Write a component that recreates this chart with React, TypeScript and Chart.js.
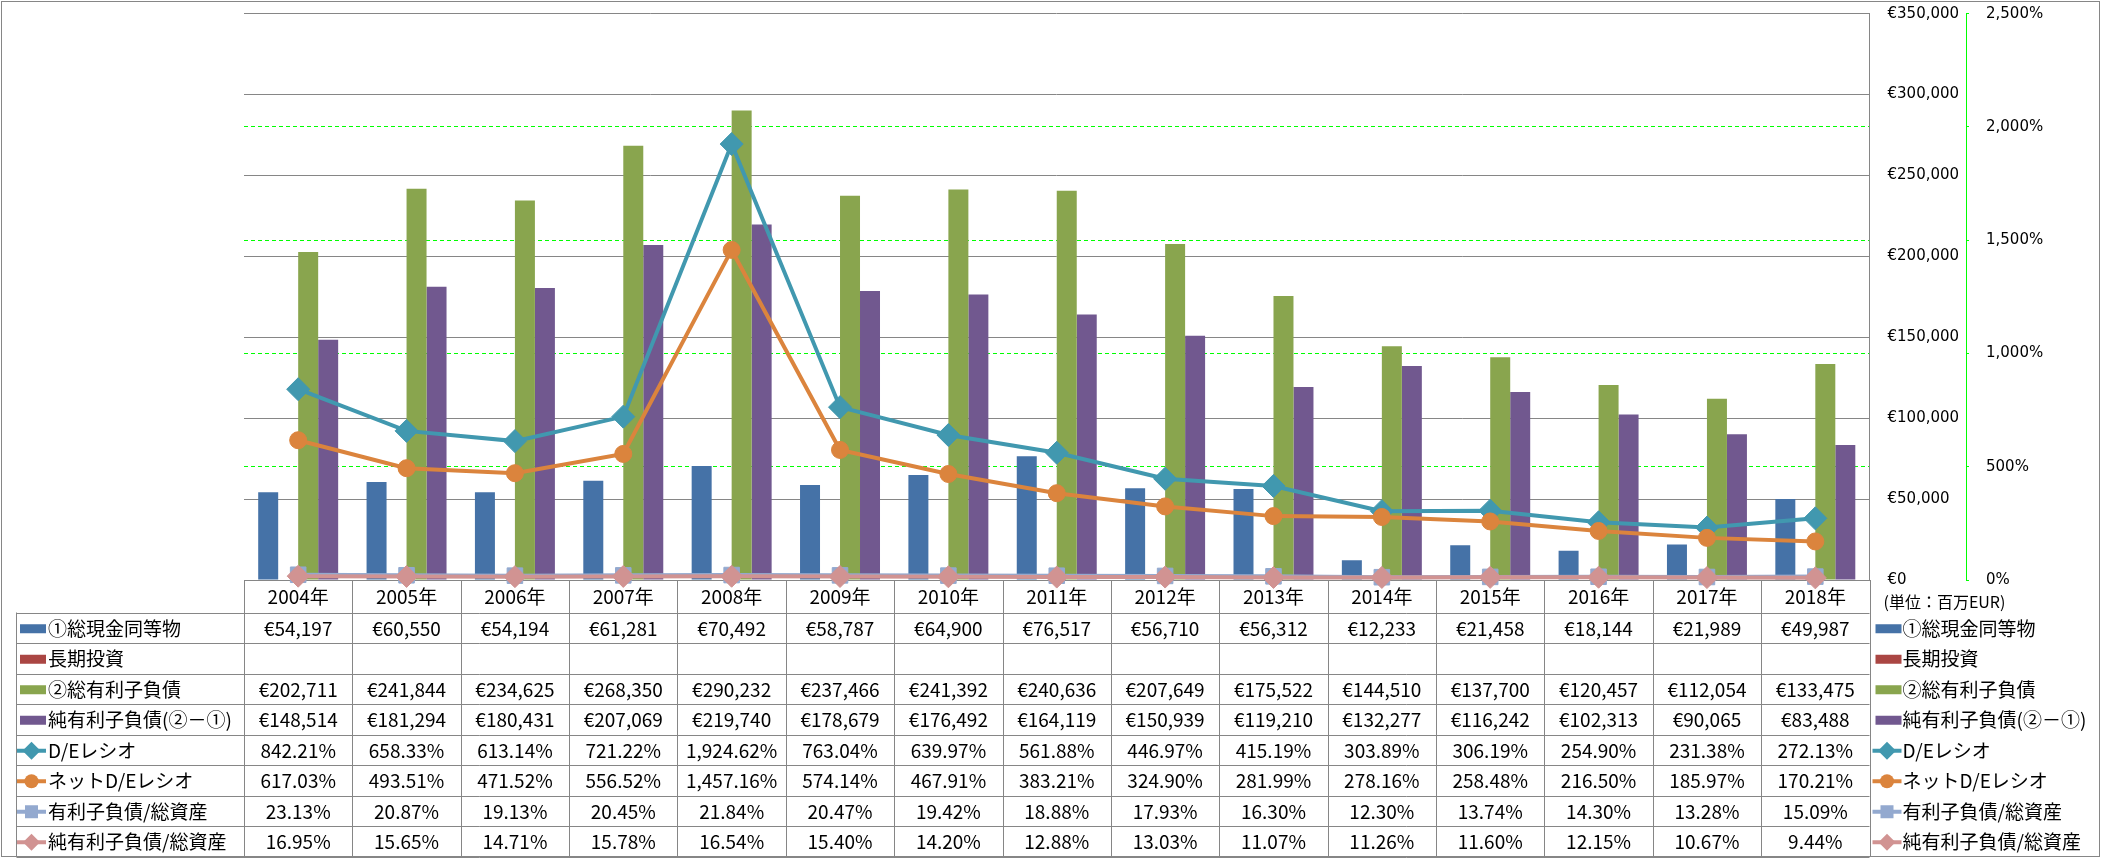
import React, { useEffect, useRef } from 'react';
import { Chart, registerables } from 'chart.js';

Chart.register(...registerables);

// ---------------- data ----------------
const YEARS = ['2004年', '2005年', '2006年', '2007年', '2008年', '2009年', '2010年', '2011年', '2012年', '2013年', '2014年', '2015年', '2016年', '2017年', '2018年'];

const CASH = [54197, 60550, 54194, 61281, 70492, 58787, 64900, 76517, 56710, 56312, 12233, 21458, 18144, 21989, 49987];
const LONG_INVEST: (number | null)[] = [null, null, null, null, null, null, null, null, null, null, null, null, null, null, null];
const GROSS_DEBT = [202711, 241844, 234625, 268350, 290232, 237466, 241392, 240636, 207649, 175522, 144510, 137700, 120457, 112054, 133475];
const NET_DEBT = [148514, 181294, 180431, 207069, 219740, 178679, 176492, 164119, 150939, 119210, 132277, 116242, 102313, 90065, 83488];
const DE_RATIO = [842.21, 658.33, 613.14, 721.22, 1924.62, 763.04, 639.97, 561.88, 446.97, 415.19, 303.89, 306.19, 254.90, 231.38, 272.13];
const NET_DE_RATIO = [617.03, 493.51, 471.52, 556.52, 1457.16, 574.14, 467.91, 383.21, 324.90, 281.99, 278.16, 258.48, 216.50, 185.97, 170.21];
const DEBT_TO_ASSETS = [23.13, 20.87, 19.13, 20.45, 21.84, 20.47, 19.42, 18.88, 17.93, 16.30, 12.30, 13.74, 14.30, 13.28, 15.09];
const NET_DEBT_TO_ASSETS = [16.95, 15.65, 14.71, 15.78, 16.54, 15.40, 14.20, 12.88, 13.03, 11.07, 11.26, 11.60, 12.15, 10.67, 9.44];

const SERIES_LABELS = ['①総現金同等物', '長期投資', '②総有利子負債', '純有利子負債(②－①)', 'D/Eレシオ', 'ネットD/Eレシオ', '有利子負債/総資産', '純有利子負債/総資産'];
const UNIT_LABEL = '(単位：百万EUR)';

const EUR_MAX = 350000;
const EUR_STEP = 50000;
const PCT_MAX = 2500;
const PCT_STEP = 500;

// ---------------- styles ----------------
const COLORS = ['#4572A7', '#AA4643', '#89A54E', '#71588F', '#4198AF', '#DB843D', '#93A9CF', '#D19392'];
const GRID = '#868686';
const GREEN = '#00ff00';
const TABLE_FONT = '19px "Noto Sans CJK JP", sans-serif';
const UNIT_FONT = '16px "Noto Sans CJK JP", sans-serif';
const TICK_FONT = { family: '"DejaVu Sans", sans-serif', size: 15 };

const W = 2101;
const H = 858;
const TABLE_LEFT = 16.5;
const ROW_TOP = 612.5;
const ROW_H = 30.5;

type Marker = 'rectRot' | 'circle' | 'rect';

function drawMarker(ctx: CanvasRenderingContext2D, style: Marker, x: number, y: number, r: number, color: string) {
  ctx.fillStyle = color;
  ctx.beginPath();
  if (style === 'rectRot') {
    ctx.moveTo(x - r, y);
    ctx.lineTo(x, y - r);
    ctx.lineTo(x + r, y);
    ctx.lineTo(x, y + r);
    ctx.closePath();
  } else if (style === 'circle') {
    ctx.arc(x, y, r, 0, Math.PI * 2);
  } else {
    ctx.rect(x - r, y - r, 2 * r, 2 * r);
  }
  ctx.fill();
}

const LINE_MARKERS: Marker[] = ['rectRot', 'circle', 'rect', 'rectRot'];
const KEY_MARKER_R = [9, 7, 6.5, 8.5];

function drawKey(ctx: CanvasRenderingContext2D, i: number, x0: number, yc: number) {
  const color = COLORS[i];
  if (i < 4) {
    ctx.fillStyle = color;
    ctx.fillRect(x0 + 3, yc - 4.5, 26, 9);
  } else {
    ctx.strokeStyle = color;
    ctx.lineWidth = 4;
    ctx.beginPath();
    ctx.moveTo(x0, yc);
    ctx.lineTo(x0 + 29, yc);
    ctx.stroke();
    drawMarker(ctx, LINE_MARKERS[i - 4], x0 + 14.5, yc, KEY_MARKER_R[i - 4], color);
  }
}

function fmtValue(i: number, v: number | null): string {
  if (v === null || v === undefined) return '';
  if (i < 4) return '€' + v.toLocaleString('en-US');
  return v.toLocaleString('en-US', { minimumFractionDigits: 2, maximumFractionDigits: 2 }) + '%';
}

const tablePlugin = {
  id: 'dataTable',
  beforeDraw(chart: any) {
    const ctx: CanvasRenderingContext2D = chart.ctx;
    ctx.save();
    ctx.fillStyle = '#ffffff';
    ctx.fillRect(0, 0, W, H);
    ctx.strokeStyle = GRID;
    ctx.lineWidth = 1;
    ctx.strokeRect(1.5, 1.5, 2098, 855);
    ctx.restore();
  },
  beforeDatasetsDraw(chart: any) {
    const ctx: CanvasRenderingContext2D = chart.ctx;
    const area = chart.chartArea;
    const xs = chart.scales.x;
    const n = YEARS.length;
    const colW = (area.right - area.left) / n;
    const bottom = ROW_TOP + ROW_H * SERIES_LABELS.length;
    ctx.save();
    ctx.strokeStyle = GRID;
    ctx.lineWidth = 1;
    ctx.beginPath();
    const axisY = Math.round(area.bottom) + 0.5;
    ctx.moveTo(area.left, axisY);
    ctx.lineTo(area.right, axisY);
    for (let r = 0; r <= SERIES_LABELS.length; r++) {
      const y = Math.round(ROW_TOP + r * ROW_H) + 0.5;
      ctx.moveTo(TABLE_LEFT, y);
      ctx.lineTo(area.right, y);
    }
    ctx.moveTo(TABLE_LEFT, ROW_TOP);
    ctx.lineTo(TABLE_LEFT, bottom);
    for (let c = 0; c <= n; c++) {
      const cx = c < n ? xs.getPixelForValue(c) - colW / 2 : xs.getPixelForValue(n - 1) + colW / 2;
      const x = Math.round(cx) + 0.5;
      ctx.moveTo(x, area.bottom);
      ctx.lineTo(x, bottom);
    }
    ctx.stroke();

    ctx.font = TABLE_FONT;
    ctx.textBaseline = 'middle';
    ctx.fillStyle = '#000';
    ctx.textAlign = 'center';
    for (let c = 0; c < n; c++) {
      ctx.fillText(YEARS[c], xs.getPixelForValue(c), (area.bottom + ROW_TOP) / 2 + 1);
    }
    const datasets = chart.data.datasets;
    for (let r = 0; r < SERIES_LABELS.length; r++) {
      const yc = ROW_TOP + r * ROW_H + ROW_H / 2 + 1;
      drawKey(ctx, r, 17, yc);
      ctx.fillStyle = '#000';
      ctx.textAlign = 'left';
      ctx.font = TABLE_FONT;
      ctx.fillText(SERIES_LABELS[r], 48, yc);
      ctx.textAlign = 'center';
      const data = datasets[r].data as (number | null)[];
      for (let c = 0; c < n; c++) {
        ctx.fillText(fmtValue(r, data[c]), xs.getPixelForValue(c), yc);
      }
      drawKey(ctx, r, area.right + 3, yc);
      ctx.fillStyle = '#000';
      ctx.textAlign = 'left';
      ctx.fillText(SERIES_LABELS[r], area.right + 33, yc);
    }
    ctx.strokeStyle = GRID;
    ctx.lineWidth = 1;
    ctx.beginPath();
    ctx.moveTo(Math.round(area.right) + 0.5, area.bottom);
    ctx.lineTo(Math.round(area.right) + 0.5, bottom);
    ctx.stroke();
    ctx.font = UNIT_FONT;
    ctx.textAlign = 'left';
    ctx.fillStyle = '#000';
    ctx.fillText(UNIT_LABEL, area.right + 14, 602);
    ctx.restore();
  },
};

function lineDs(label: string, data: number[], idx: number, order: number, style: Marker, radius: number) {
  return {
    type: 'line' as const,
    label,
    data,
    borderColor: COLORS[idx],
    backgroundColor: COLORS[idx],
    pointBackgroundColor: COLORS[idx],
    pointBorderColor: COLORS[idx],
    pointBorderWidth: 1,
    pointStyle: style,
    pointRadius: radius,
    borderWidth: 4,
    tension: 0,
    fill: false,
    clip: false as any,
    yAxisID: 'y2',
    order,
  };
}

function barDs(label: string, data: (number | null)[], idx: number) {
  return {
    type: 'bar' as const,
    label,
    data,
    backgroundColor: COLORS[idx],
    borderWidth: 0,
    categoryPercentage: 0.738,
    barPercentage: 1,
    yAxisID: 'y',
    order: 10,
  };
}

const fixWidth = (w: number) => (s: any) => {
  s.width = w;
  s.paddingTop = 0;
  s.paddingBottom = 0;
};

export default function App() {
  const ref = useRef<HTMLCanvasElement>(null);
  useEffect(() => {
    if (!ref.current) return;
    const chart = new Chart(ref.current, {
      type: 'bar',
      data: {
        labels: YEARS,
        datasets: [
          barDs(SERIES_LABELS[0], CASH, 0),
          barDs(SERIES_LABELS[1], LONG_INVEST, 1),
          barDs(SERIES_LABELS[2], GROSS_DEBT, 2),
          barDs(SERIES_LABELS[3], NET_DEBT, 3),
          lineDs(SERIES_LABELS[4], DE_RATIO, 4, 4, 'rectRot', 11.5),
          lineDs(SERIES_LABELS[5], NET_DE_RATIO, 5, 3, 'circle', 8.5),
          lineDs(SERIES_LABELS[6], DEBT_TO_ASSETS, 6, 2, 'rect', 11),
          lineDs(SERIES_LABELS[7], NET_DEBT_TO_ASSETS, 7, 1, 'rectRot', 11),
        ] as any,
      },
      options: {
        responsive: false,
        maintainAspectRatio: false,
        animation: false,
        devicePixelRatio: 1,
        layout: { padding: { left: 244, top: 13.7, right: 0, bottom: 278 } },
        plugins: {
          legend: { display: false },
          tooltip: { enabled: false },
          title: { display: false },
        },
        scales: {
          x: {
            type: 'category',
            display: false,
            offset: true,
            grid: { display: false },
          },
          y: {
            type: 'linear',
            position: 'right',
            min: 0,
            max: EUR_MAX,
            weight: 1,
            afterFit: fixWidth(96.5),
            grid: { color: GRID, lineWidth: 1, drawTicks: false },
            border: { display: true, color: GRID, width: 1 },
            ticks: {
              stepSize: EUR_STEP,
              padding: 18,
              color: '#000',
              font: TICK_FONT,
              callback: (v: any) => '€' + Number(v).toLocaleString('en-US'),
            },
          },
          y2: {
            type: 'linear',
            position: 'right',
            min: 0,
            max: PCT_MAX,
            weight: 2,
            afterFit: fixWidth(135),
            grid: {
              color: (c: any) => (c.tick && (c.tick.value === 0 || c.tick.value === PCT_MAX) ? 'rgba(0,0,0,0)' : GREEN),
              tickColor: GREEN,
              lineWidth: 1,
              drawTicks: true,
              tickLength: 3,
              tickBorderDash: [],
            },
            border: { display: true, color: GREEN, width: 1, dash: [4, 3] },
            ticks: {
              stepSize: PCT_STEP,
              padding: 17,
              color: '#000',
              font: TICK_FONT,
              callback: (v: any) => Number(v).toLocaleString('en-US') + '%',
            },
          },
        } as any,
      },
      plugins: [tablePlugin],
    });
    return () => chart.destroy();
  }, []);
  return (
    <div style={{ position: 'fixed', left: 0, top: 0, width: W, height: H, background: '#fff' }}>
      <canvas ref={ref} width={W} height={H} style={{ display: 'block', width: W, height: H }} />
    </div>
  );
}
